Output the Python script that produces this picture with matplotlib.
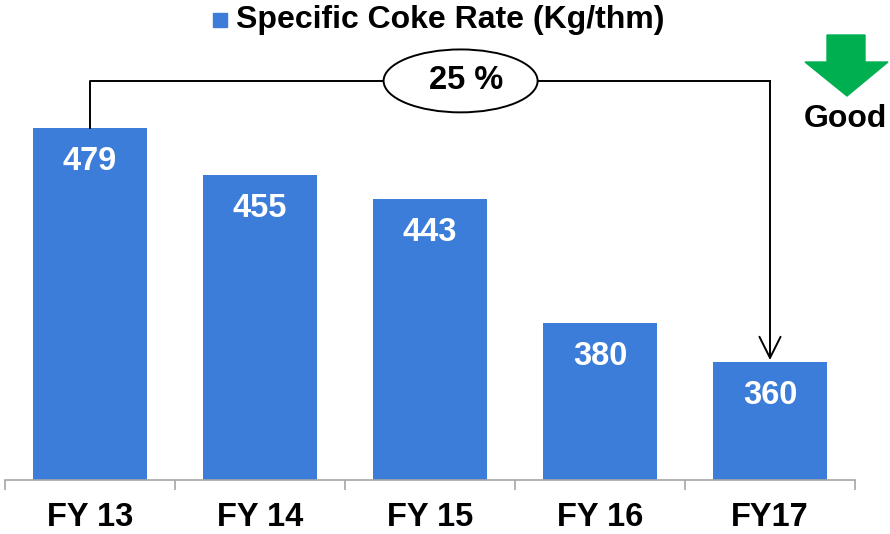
import matplotlib
matplotlib.use('Agg')
import matplotlib.pyplot as plt
from matplotlib.patches import Ellipse, Polygon, Rectangle

plt.rcParams['font.family'] = ['Liberation Sans', 'DejaVu Sans']

years = ['FY 13', 'FY 14', 'FY 15', 'FY 16', 'FY17']
coke_rate = [479, 455, 443, 380, 360]
change_label = '25 %'
series_name = 'Specific Coke Rate (Kg/thm)'

bar_color = '#3C7DD9'

fig = plt.figure(figsize=(8.9, 5.34), dpi=100)
ax = fig.add_axes([5/890, 1 - 480/534, 850/890, 480/534])

x = list(range(len(years)))
bars = ax.bar(x, coke_rate, width=0.665, color=bar_color, zorder=2)

ax.set_xlim(-0.5, len(years) - 0.5)
ax.set_ylim(300, 300 + 480/1.966)

# value labels inside bars
for xi, v in zip(x, coke_rate):
    ax.text(xi, v - 17, str(v), ha='center', va='center', color='white',
            fontsize=23.5, fontweight='bold')

# axes styling
for s in ['top', 'right', 'left']:
    ax.spines[s].set_visible(False)
ax.spines['bottom'].set_color('#A6A6A6')
ax.spines['bottom'].set_linewidth(1.2)
ax.set_yticks([])
ax.set_xticks(x)
ax.set_xticklabels(years, fontsize=23.5, fontweight='bold')
ax.tick_params(axis='x', which='major', length=0, pad=16)
ax.set_xticks([i - 0.5 for i in range(len(years) + 1)], minor=True)
ax.tick_params(axis='x', which='minor', length=7, color='#A6A6A6', width=1.2)

# reduction bracket from first to last bar
y_line = 503
ax.plot([0, 0, 4], [coke_rate[0], y_line, y_line], color='black', lw=1.4,
        zorder=3, clip_on=False)
ax.annotate('', xy=(4, coke_rate[-1] + 1), xytext=(4, y_line),
            arrowprops=dict(arrowstyle='->', color='black', lw=1.4,
                            mutation_scale=38, shrinkA=0, shrinkB=0),
            zorder=3, annotation_clip=False)
ax.add_patch(Ellipse((2.18, y_line), 0.906, 32, facecolor='white',
                     edgecolor='black', lw=1.4, zorder=4, clip_on=False))
ax.text(2.21, y_line, change_label, ha='center', va='center', fontsize=23.5,
        fontweight='bold', zorder=5)

# legend at top
fig.patches.append(Rectangle((213/890, 1 - 27/534), 14/890, 14/534,
                             transform=fig.transFigure, color=bar_color))
fig.text(236/890, 1 - 20/534, series_name, ha='left', va='center',
         fontsize=23, fontweight='bold')

# green "Good" arrow
pts = [(827, 35), (865, 35), (865, 62), (888, 62), (847, 96), (805, 62), (827, 62)]
fig.patches.append(Polygon([(px/890, 1 - py/534) for px, py in pts], closed=True,
                           transform=fig.transFigure, color='#00B050'))
fig.text(845/890, 1 - 119/534, 'Good', ha='center', va='center',
         fontsize=23, fontweight='bold')

fig.savefig('out.png', dpi=100)
